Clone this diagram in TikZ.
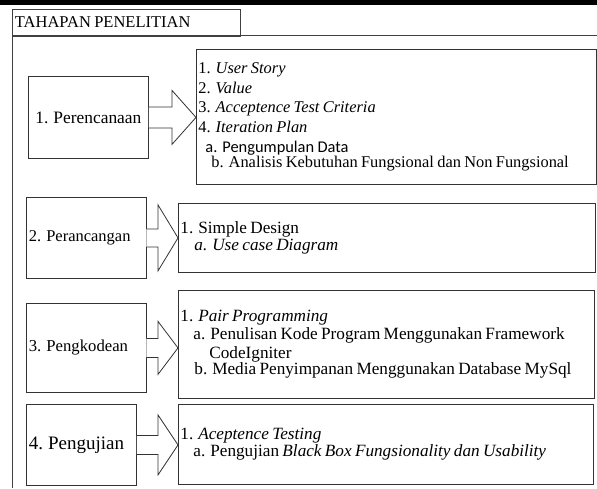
\documentclass[tikz,border=0pt]{standalone}
\usepackage{fontspec}
\setmainfont{Liberation Serif}
\newfontfamily\calib{Carlito}[Scale=1.0]
\usetikzlibrary{calc}
\tikzset{
  frameline/.style={draw=black!75, line width=0.9pt},
  lbox/.style={draw=black!80, line width=0.8pt, anchor=north west, inner xsep=3pt, inner ysep=0pt, align=left},
  rbox/.style={draw=black!80, line width=0.8pt, anchor=north west, inner xsep=2pt, inner ysep=0pt, align=left},
  barrow/.style={draw=black!80, line width=0.8pt, fill=white, line join=miter},
}
\newcommand\blockarr[5]{%
  \draw[barrow] let \p1=(#1.east), \p2=(#2.west) in
    (\x1,\y1+#3) -- (\x2-#5,\y1+#3) -- (\x2-#5,\y1+#4) -- (\x2,\y1)
    -- (\x2-#5,\y1-#4) -- (\x2-#5,\y1-#3) -- (\x1,\y1-#3);}
\begin{document}
\begin{tikzpicture}[x=1pt,y=-1pt]
\useasboundingbox (0,0) rectangle (597,488);
\fill[black] (0,0) rectangle (597,4.5);
% frame
\coordinate (fr) at (597,35.5);
\coordinate (fl) at (12,35.5);
\coordinate (fb) at (12,488);
\draw[frameline] (fr) -- (fl) -- (fb);
\node[frameline, anchor=north west, minimum width=228pt, minimum height=27pt, inner xsep=2.5pt, text width=223pt, align=left] (title) at (12,8.5)
  {\fontsize{16.5}{19}\selectfont TAHAPAN PENELITIAN};

% row 1
\node[lbox, minimum width=120pt, minimum height=82pt, text width=114pt, align=center] (p1) at (28,76)
  {\fontsize{17.4}{20}\selectfont 1. Perencanaan};
\node[rbox, minimum width=400pt, minimum height=135pt, text width=396pt] (r1) at (196,49)
  {\fontsize{16.4}{19.6}\selectfont
   1. \textit{User Story}\\
   2. \textit{Value}\\
   3. \textit{Acceptence Test Criteria}\\
   4. \textit{Iteration Plan}\\
   \hspace*{7pt}{\calib a. Pengumpulan Data}\\
   \hspace*{13pt}b. Analisis Kebutuhan Fungsional dan Non Fungsional};
\blockarr{p1}{r1}{10.5pt}{27pt}{24pt}

% row 2
\node[lbox, minimum width=120pt, minimum height=81pt, text width=114pt] (p2) at (25.5,197)
  {\fontsize{16.5}{18}\selectfont 2. Perancangan};
\node[rbox, minimum width=417pt, minimum height=69pt, text width=413pt] (r2) at (178,203)
  {\fontsize{17.2}{19.2}\selectfont
   1. Simple Design\\
   \hspace*{14pt}\textit{a. Use case Diagram}};
\blockarr{p2}{r2}{9pt}{33pt}{20pt}

% row 3
\node[lbox, minimum width=120pt, minimum height=89pt, text width=114pt] (p3) at (25.5,303)
  {\fontsize{16.7}{18}\selectfont 3. Pengkodean};
\node[rbox, minimum width=416pt, minimum height=108pt, text width=412pt] (r3) at (178,290)
  {\fontsize{17.2}{18.4}\selectfont
   1. \textit{Pair Programming}\\
   \hspace*{13pt}a. Penulisan Kode Program Menggunakan Framework\\
   \hspace*{29pt}CodeIgniter\\
   \hspace*{14pt}b. Media Penyimpanan Menggunakan Database MySql};
\blockarr{p3}{r3}{9.5pt}{26.5pt}{20pt}

% row 4
\node[lbox, minimum width=110.5pt, minimum height=81pt, text width=104.5pt] (p4) at (25.5,404)
  {\fontsize{19}{21}\selectfont 4. Pengujian};
\node[rbox, minimum width=415pt, minimum height=80pt, text width=411pt] (r4) at (178,404)
  {\fontsize{17.2}{18.4}\selectfont
   1. \textit{Aceptence Testing}\\
   \hspace*{13pt}a. Pengujian \textit{Black Box Fungsionality dan Usability}};
\blockarr{p4}{r4}{9.5pt}{30pt}{20pt}
\end{tikzpicture}
\end{document}
